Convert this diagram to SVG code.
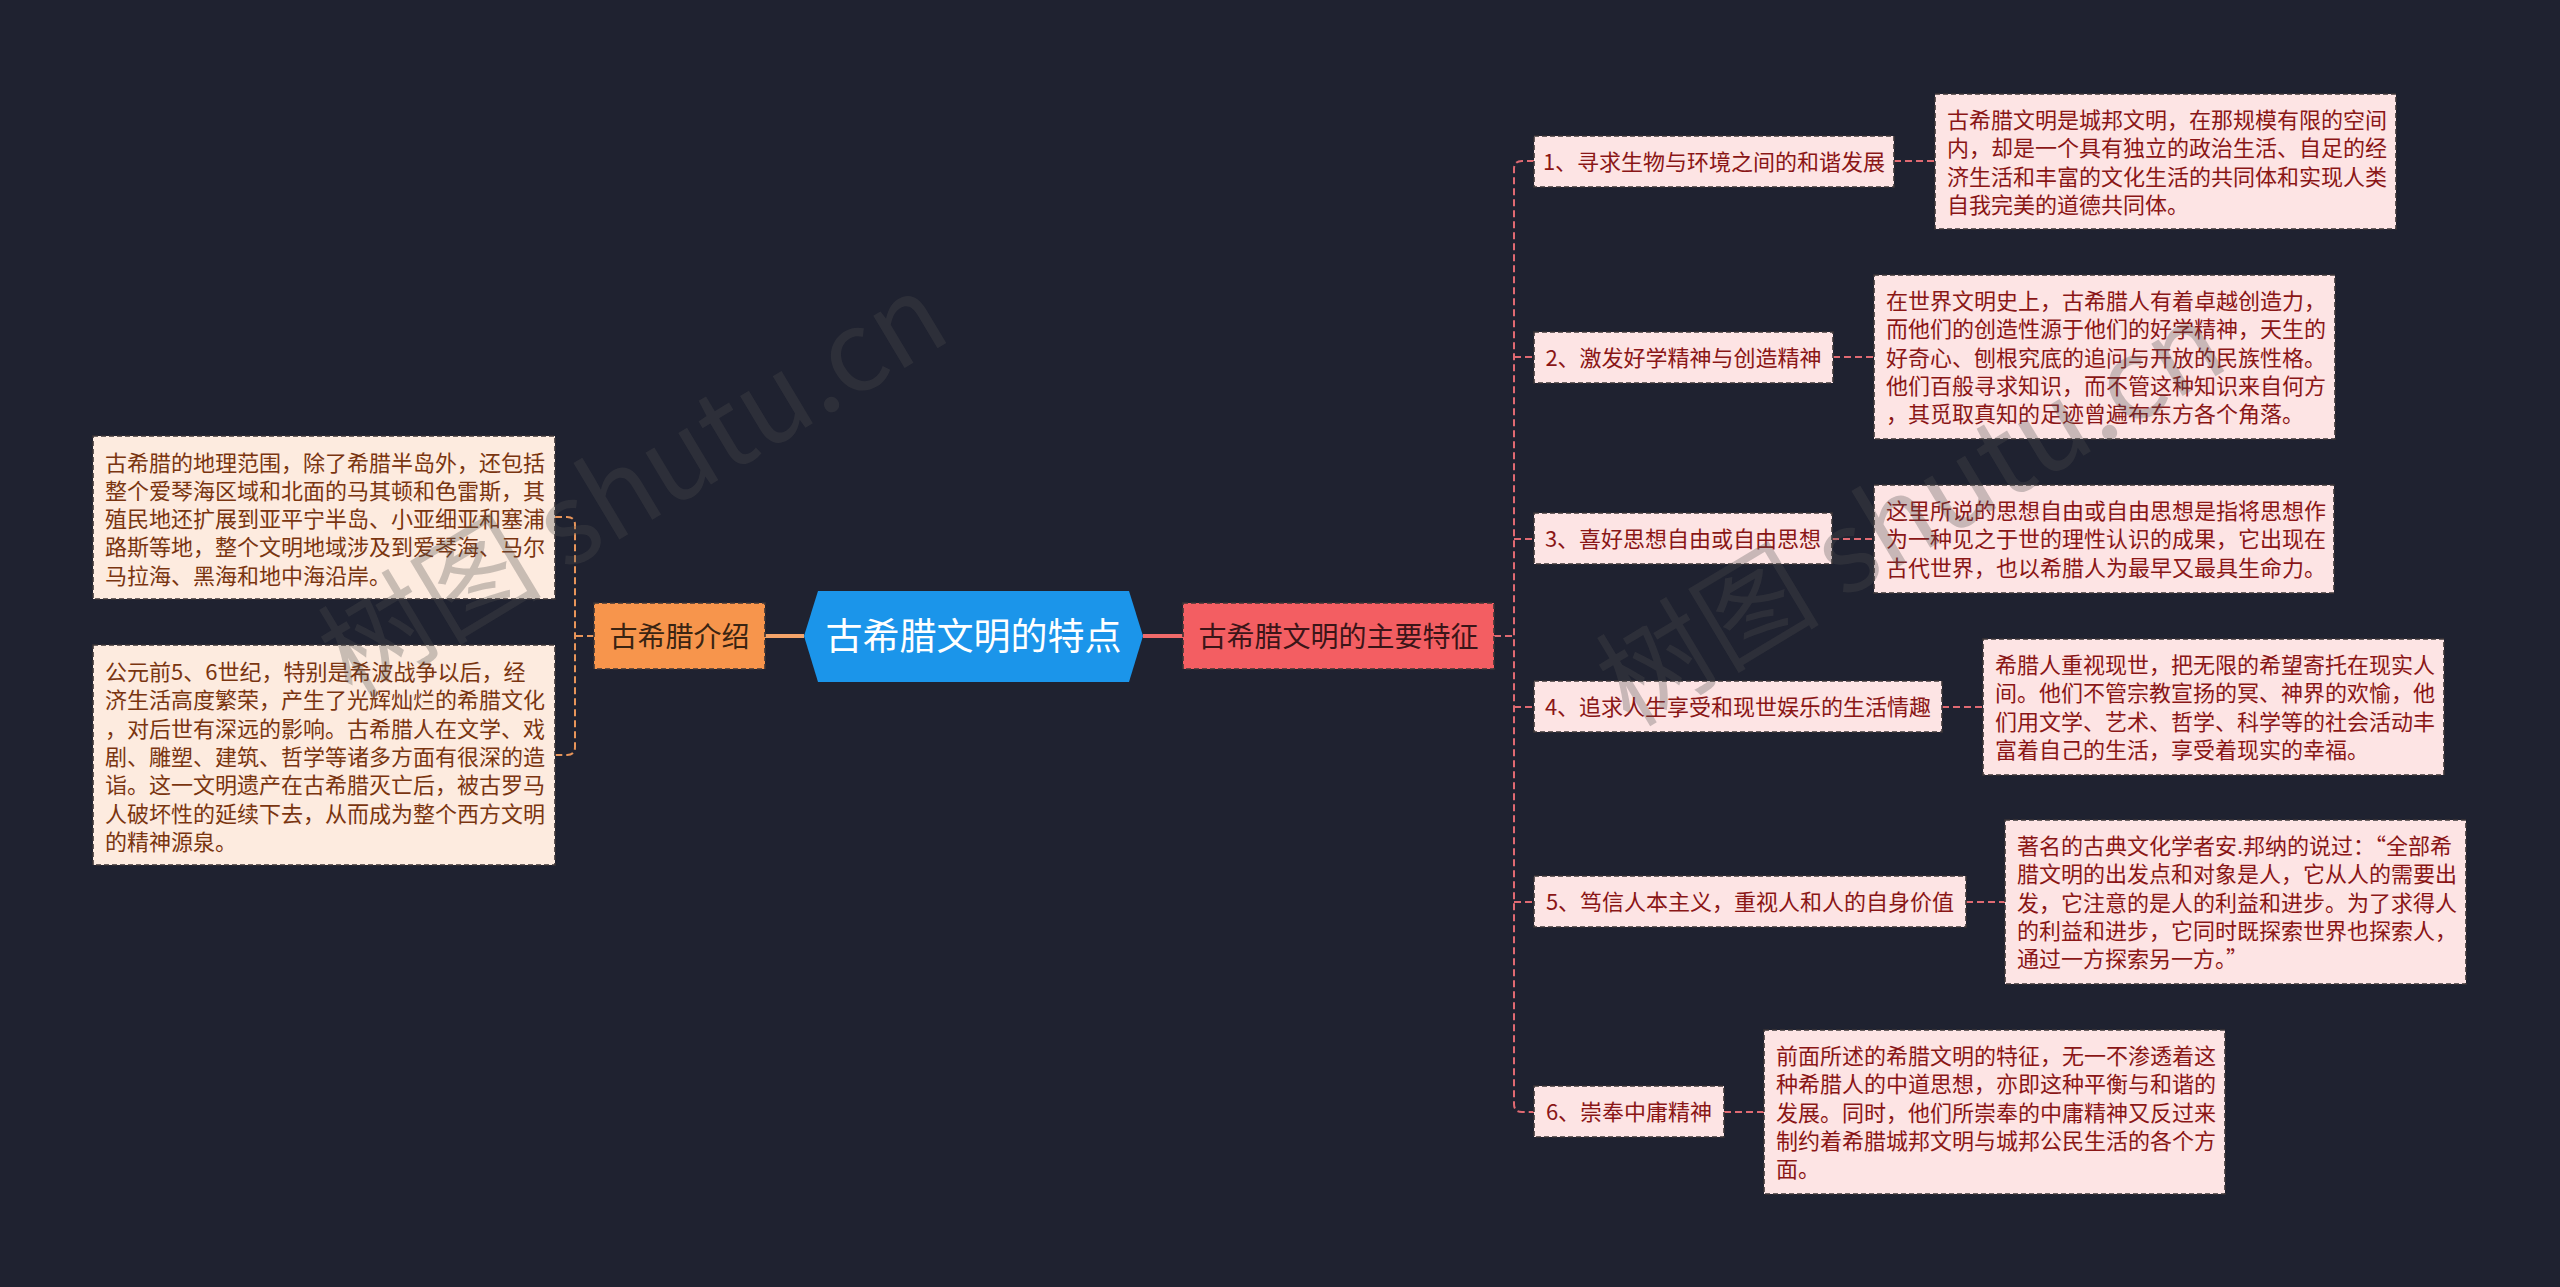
<svg xmlns="http://www.w3.org/2000/svg" width="2560" height="1287" viewBox="0 0 2560 1287">
<style>
text{font-family:"Noto Sans CJK SC","Noto Sans",sans-serif}
.bg{fill:#1f2230}
.wm{fill:#505050;fill-opacity:0.3;font-size:112px}
.dbox{fill:#fde4e4;stroke:#3b3536;stroke-width:1.6;stroke-dasharray:5 3}
.lbox{fill:#fdebdf;stroke:#3b3536;stroke-width:1.6;stroke-dasharray:5 3}
.dtxt{fill:#8a1616;font-size:22px}
.ltxt{fill:#7a3510;font-size:22px}
.itxt{fill:#8a1616;font-size:22px;text-anchor:middle}
.cr{fill:none;stroke:#e06a72;stroke-width:2;stroke-dasharray:7 4}
.co{fill:none;stroke:#e8955a;stroke-width:2;stroke-dasharray:7 4}
</style>
<rect class="bg" x="0" y="0" width="2560" height="1287"/>

<g id="connectors">
<line x1="765" y1="636" x2="804" y2="636" stroke="#f4a46a" stroke-width="4"/>
<line x1="1143" y1="636" x2="1183" y2="636" stroke="#f06a6a" stroke-width="4"/>
<path class="co" d="M594,636 H575"/>
<path class="co" d="M555,517 H567 Q575,517 575,525 V747 Q575,755 567,755 H555"/>
<path class="cr" d="M1494,636 H1514"/>
<path class="cr" d="M1534,161 H1522 Q1514,161 1514,169 V1104 Q1514,1112 1522,1112 H1534"/>
<path class="cr" d="M1514,357 H1534 M1514,539 H1534 M1514,707 H1534 M1514,902 H1534"/>
<path class="cr" d="M1894,161 H1935 M1833,357 H1874 M1832,539 H1874 M1942,707 H1983 M1966,902 H2005 M1724,1112 H1764"/>
</g>

<g id="center">
<polygon points="804,636 818,591 1129,591 1143,636 1129,682 818,682" fill="#1b95ea"/>
<text x="973.5" y="649.5" fill="#ffffff" font-size="37" text-anchor="middle">古希腊文明的特点</text>
</g>

<g id="intro">
<rect x="594" y="603" width="171" height="66" fill="#f7954c" stroke="#3b3536" stroke-width="1.6" stroke-dasharray="5 3"/>
<text x="679.5" y="646.5" fill="#3a2412" font-size="28" text-anchor="middle">古希腊介绍</text>
</g>

<g id="features">
<rect x="1183" y="603" width="311" height="66" fill="#f35e62" stroke="#3b3536" stroke-width="1.6" stroke-dasharray="5 3"/>
<text x="1338.5" y="646.5" fill="#3b1518" font-size="28" text-anchor="middle">古希腊文明的主要特征</text>
</g>

<g id="intro-1">
<rect class="lbox" x="93" y="436" width="462" height="163"/>
<text class="ltxt"><tspan x="105" y="470.5">古希腊的地理范围，除了希腊半岛外，还包括</tspan><tspan x="105" y="498.8">整个爱琴海区域和北面的马其顿和色雷斯，其</tspan><tspan x="105" y="527.1">殖民地还扩展到亚平宁半岛、小亚细亚和塞浦</tspan><tspan x="105" y="555.4">路斯等地，整个文明地域涉及到爱琴海、马尔</tspan><tspan x="105" y="583.7">马拉海、黑海和地中海沿岸。</tspan></text>
</g>

<g id="intro-2">
<rect class="lbox" x="93" y="645" width="462" height="220"/>
<text class="ltxt"><tspan x="105" y="680">公元前5、6世纪，特别是希波战争以后，经</tspan><tspan x="105" y="708.3">济生活高度繁荣，产生了光辉灿烂的希腊文化</tspan><tspan x="105" y="736.6">，对后世有深远的影响。古希腊人在文学、戏</tspan><tspan x="105" y="764.9">剧、雕塑、建筑、哲学等诸多方面有很深的造</tspan><tspan x="105" y="793.2">诣。这一文明遗产在古希腊灭亡后，被古罗马</tspan><tspan x="105" y="821.5">人破坏性的延续下去，从而成为整个西方文明</tspan><tspan x="105" y="849.8">的精神源泉。</tspan></text>
</g>

<g id="item-1">
<rect class="dbox" x="1534" y="136" width="360" height="51"/>
<text class="itxt" x="1714" y="169.5">1、寻求生物与环境之间的和谐发展</text>
</g>
<g id="detail-1">
<rect class="dbox" x="1935" y="94" width="461" height="135"/>
<text class="dtxt"><tspan x="1947" y="128">古希腊文明是城邦文明，在那规模有限的空间</tspan><tspan x="1947" y="156.3">内，却是一个具有独立的政治生活、自足的经</tspan><tspan x="1947" y="184.6">济生活和丰富的文化生活的共同体和实现人类</tspan><tspan x="1947" y="212.9">自我完美的道德共同体。</tspan></text>
</g>

<g id="item-2">
<rect class="dbox" x="1534" y="332" width="299" height="51"/>
<text class="itxt" x="1683.5" y="365.5">2、激发好学精神与创造精神</text>
</g>
<g id="detail-2">
<rect class="dbox" x="1874" y="275" width="461" height="164"/>
<text class="dtxt"><tspan x="1886" y="309">在世界文明史上，古希腊人有着卓越创造力，</tspan><tspan x="1886" y="337.3">而他们的创造性源于他们的好学精神，天生的</tspan><tspan x="1886" y="365.6">好奇心、刨根究底的追问与开放的民族性格。</tspan><tspan x="1886" y="393.9">他们百般寻求知识，而不管这种知识来自何方</tspan><tspan x="1886" y="422.2">，其觅取真知的足迹曾遍布东方各个角落。</tspan></text>
</g>

<g id="item-3">
<rect class="dbox" x="1534" y="513" width="298" height="51"/>
<text class="itxt" x="1683" y="546.5">3、喜好思想自由或自由思想</text>
</g>
<g id="detail-3">
<rect class="dbox" x="1874" y="485" width="460" height="108"/>
<text class="dtxt"><tspan x="1886" y="519">这里所说的思想自由或自由思想是指将思想作</tspan><tspan x="1886" y="547.3">为一种见之于世的理性认识的成果，它出现在</tspan><tspan x="1886" y="575.6">古代世界，也以希腊人为最早又最具生命力。</tspan></text>
</g>

<g id="item-4">
<rect class="dbox" x="1534" y="681" width="408" height="51"/>
<text class="itxt" x="1738" y="714.5">4、追求人生享受和现世娱乐的生活情趣</text>
</g>
<g id="detail-4">
<rect class="dbox" x="1983" y="639" width="461" height="136"/>
<text class="dtxt"><tspan x="1995" y="673">希腊人重视现世，把无限的希望寄托在现实人</tspan><tspan x="1995" y="701.3">间。他们不管宗教宣扬的冥、神界的欢愉，他</tspan><tspan x="1995" y="729.6">们用文学、艺术、哲学、科学等的社会活动丰</tspan><tspan x="1995" y="757.9">富着自己的生活，享受着现实的幸福。</tspan></text>
</g>

<g id="item-5">
<rect class="dbox" x="1534" y="876" width="432" height="51"/>
<text class="itxt" x="1750" y="909.5">5、笃信人本主义，重视人和人的自身价值</text>
</g>
<g id="detail-5">
<rect class="dbox" x="2005" y="820" width="461" height="164"/>
<text class="dtxt"><tspan x="2017" y="854">著名的古典文化学者安.邦纳的说过：“全部希</tspan><tspan x="2017" y="882.3">腊文明的出发点和对象是人，它从人的需要出</tspan><tspan x="2017" y="910.6">发，它注意的是人的利益和进步。为了求得人</tspan><tspan x="2017" y="938.9">的利益和进步，它同时既探索世界也探索人，</tspan><tspan x="2017" y="967.2">通过一方探索另一方。”</tspan></text>
</g>

<g id="item-6">
<rect class="dbox" x="1534" y="1086" width="190" height="51"/>
<text class="itxt" x="1629" y="1119.5">6、崇奉中庸精神</text>
</g>
<g id="detail-6">
<rect class="dbox" x="1764" y="1030" width="461" height="164"/>
<text class="dtxt"><tspan x="1776" y="1064">前面所述的希腊文明的特征，无一不渗透着这</tspan><tspan x="1776" y="1092.3">种希腊人的中道思想，亦即这种平衡与和谐的</tspan><tspan x="1776" y="1120.6">发展。同时，他们所崇奉的中庸精神又反过来</tspan><tspan x="1776" y="1148.9">制约着希腊城邦文明与城邦公民生活的各个方</tspan><tspan x="1776" y="1177.2">面。</tspan></text>
</g>

<g id="watermark">
<text class="wm" transform="translate(352,700) rotate(-31)">树图 shutu.cn</text>
<text class="wm" transform="translate(1630,728) rotate(-31)">树图 shutu.cn</text>
</g>
</svg>
